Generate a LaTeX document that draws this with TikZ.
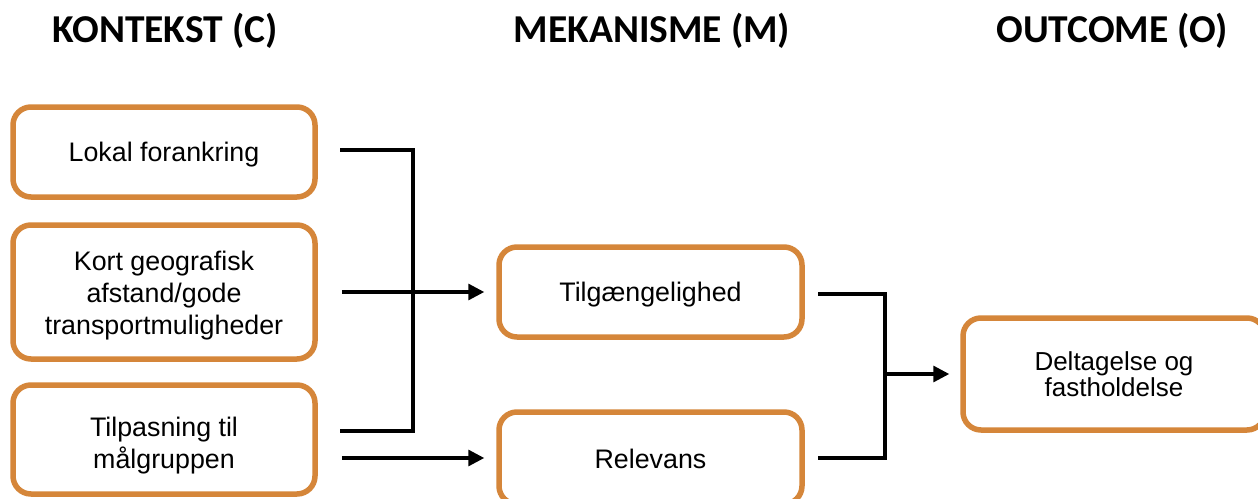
\documentclass[tikz,border=0pt]{standalone}
\usepackage{fontspec}
\setmainfont{Liberation Sans}
\newfontfamily\headfont{Carlito}
\usetikzlibrary{arrows.meta}
\definecolor{boxorange}{RGB}{213,134,58}
\newcommand{\lowtext}[2]{\raisebox{-#1}[\height][\depth]{\begin{tabular}{@{}c@{}}#2\end{tabular}}}
\tikzset{
  cbox/.style={draw=boxorange, line width=5.5pt, rounded corners=18pt, fill=white,
    minimum width=302pt, align=center, inner sep=0pt,
    font=\fontsize{26.8}{32}\selectfont},
  head/.style={font=\headfont\bfseries\fontsize{39.5}{40}\selectfont, inner sep=0pt},
  conn/.style={line width=3.2pt},
  arr/.style={conn, -{Triangle[length=16pt,width=16pt]}},
}
\begin{document}
\begin{tikzpicture}[x=1pt,y=-1pt]
\useasboundingbox[fill=white] (0,0) rectangle (1258,498);
\node[head] (hc) at (165,31) {KONTEKST (C)};
\node[head] (hm) at (652,31) {MEKANISME (M)};
\node[head] (ho) at (1112,31) {OUTCOME (O)};

\node[cbox, minimum height=90pt] (lok) at (164,152) {\lowtext{3pt}{Lokal forankring}};
\node[cbox, minimum height=134pt] (kort) at (164,292) {\lowtext{4pt}{Kort geografisk\\afstand/gode\\transportmuligheder}};
\node[cbox, minimum height=109pt] (tilp) at (164,439.5) {\lowtext{7pt}{Tilpasning til\\målgruppen}};

\node[cbox, minimum width=303pt, minimum height=90pt] (tilg) at (650.5,292) {\lowtext{3pt}{Tilgængelighed}};
\node[cbox, minimum width=303pt, minimum height=92pt] (rel) at (650.5,458) {\lowtext{4pt}{Relevans}};

\node[cbox, minimum height=112pt, font=\fontsize{26}{26.5}\selectfont] (delt) at (1114,374) {\lowtext{4pt}{Deltagelse og\\fastholdelse}};

% left bracket
\coordinate (c1) at (340,150);
\coordinate (c3) at (340,431);
\coordinate (bx) at (413,150);
\draw[conn] (c1) -- (bx) -- (bx |- c3) -- (c3);

\draw[arr, shorten <=24pt, shorten >=12pt] (kort.east) -- (tilg.west);
\draw[arr, shorten <=24pt, shorten >=12pt] (kort.east |- rel.west) -- (rel.west);

% right bracket
\coordinate (d1) at (818,294);
\coordinate (d2) at (818,458);
\coordinate (dx) at (885,294);
\draw[conn] (d1) -- (dx) -- (dx |- d2) -- (d2);
\draw[arr, shorten >=11pt] (dx |- delt.west) -- (delt.west);
\end{tikzpicture}
\end{document}
